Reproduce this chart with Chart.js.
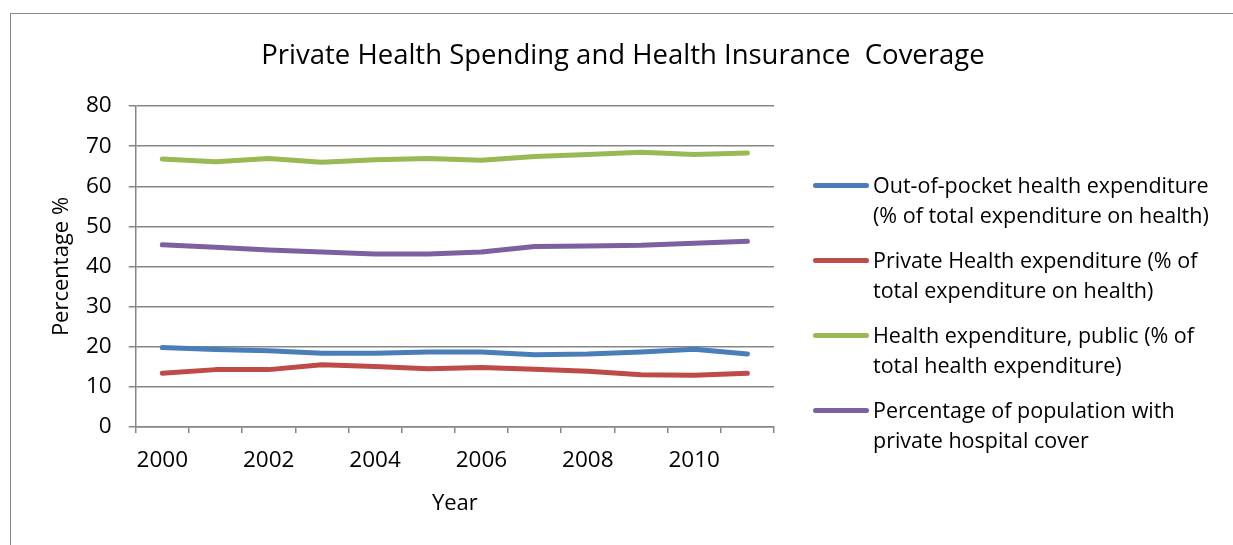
<!DOCTYPE html>
<html>
<head>
<meta charset="utf-8">
<script src="https://cdn.jsdelivr.net/npm/chart.js@4/dist/chart.umd.min.js"></script>
<style>
  html, body { margin: 0; padding: 0; background: #fff; }
  #wrap { position: relative; width: 1233px; height: 545px; overflow: hidden; }
  #frame { position: absolute; left: 10px; top: 13px; width: 1300px; height: 600px;
           border-left: 1.5px solid #888; border-top: 1.5px solid #888; }
  canvas { position: absolute; left: 0; top: 0; }
  #title { position: absolute; left: 0; width: 1246px; top: 35px; text-align: center;
           font-family: "Open Sans", sans-serif; font-size: 27.5px; line-height: 38px; color: #000; white-space: pre; }
  #legend { position: absolute; left: 813px; top: 170px; font-family: "Open Sans", sans-serif;
            font-size: 21.5px; color: #000; }
  .item { position: relative; height: 75px; }
  .swatch { position: absolute; left: 0; top: 13px; width: 56px; height: 5px; border-radius: 3px; }
  .label { position: absolute; left: 60px; top: 0; line-height: 30px; white-space: nowrap; }
</style>
</head>
<body>
<div id="wrap">
  <div id="frame"></div>
  <canvas id="chart" width="1233" height="545"></canvas>
  <div id="title"></div>
  <div id="legend"></div>
</div>
<script>
const chartTitle = 'Private Health Spending and Health Insurance  Coverage';
const years = ['2000','2001','2002','2003','2004','2005','2006','2007','2008','2009','2010','2011'];

const outOfPocket = [19.8, 19.3, 19.0, 18.4, 18.4, 18.7, 18.7, 18.0, 18.2, 18.7, 19.4, 18.2];
const privateHealth = [13.4, 14.3, 14.3, 15.5, 15.1, 14.5, 14.8, 14.4, 13.9, 13.0, 12.9, 13.4];
const publicHealth = [66.8, 66.1, 66.9, 66.0, 66.6, 66.9, 66.5, 67.4, 67.9, 68.5, 67.9, 68.3];
const privateCover = [45.4, 44.8, 44.1, 43.6, 43.1, 43.1, 43.6, 45.0, 45.1, 45.3, 45.8, 46.3];

const seriesNames = [
  ['Out-of-pocket health expenditure', '(% of total expenditure on health)'],
  ['Private Health expenditure (% of', 'total expenditure on health)'],
  ['Health expenditure, public (% of', 'total health expenditure)'],
  ['Percentage of population with', 'private hospital cover']
];
const seriesColors = ['#4A7EBB', '#BE4B48', '#98B954', '#7D60A0'];
const seriesValues = [outOfPocket, privateHealth, publicHealth, privateCover];

const gridColor = '#868686';
const font = 'Open Sans';

const datasets = seriesValues.map((vals, i) => ({
  label: seriesNames[i].join(' '),
  data: vals,
  borderColor: seriesColors[i],
  backgroundColor: seriesColors[i],
  borderWidth: 5,
  borderCapStyle: 'round',
  borderJoinStyle: 'round',
  pointRadius: 0,
  tension: 0,
  fill: false
}));

new Chart(document.getElementById('chart'), {
  type: 'line',
  data: { labels: years, datasets },
  options: {
    responsive: false,
    animation: false,
    layout: { padding: { left: 45, top: 106, right: 459, bottom: 24 } },
    plugins: {
      legend: { display: false },
      tooltip: { enabled: false },
      title: { display: false }
    },
    scales: {
      x: {
        offset: true,
        grid: { display: true, drawOnChartArea: false, drawTicks: true, tickLength: 6, color: gridColor, lineWidth: 1.5, offset: true },
        border: { color: gridColor, width: 1.5 },
        ticks: {
          autoSkip: false, maxRotation: 0, color: '#000', padding: 14,
          font: { family: font, size: 22.5 },
          callback: function (v, i) { return i % 2 === 0 ? this.getLabelForValue(v) : ''; }
        },
        title: { display: true, text: 'Year', color: '#000', font: { family: font, size: 22 }, padding: 4 },
        afterFit: s => { s.height = 94; }
      },
      y: {
        min: 0, max: 80,
        grid: { color: gridColor, lineWidth: 1.5, tickLength: 7 },
        border: { color: gridColor, width: 1.5 },
        ticks: { stepSize: 10, color: '#000', padding: 17, font: { family: font, size: 22.5 } },
        title: { display: true, text: 'Percentage %', color: '#000', font: { family: font, size: 22 }, padding: 4 },
        afterFit: s => { s.width = 90.7; }
      }
    }
  }
});

document.getElementById('title').textContent = chartTitle;

// legend built from the same series names and colours
const legend = document.getElementById('legend');
seriesNames.forEach((lines, i) => {
  const item = document.createElement('div');
  item.className = 'item';
  item.innerHTML = `<div class="swatch" style="background:${seriesColors[i]}"></div>
    <div class="label">${lines.join('<br>')}</div>`;
  legend.appendChild(item);
});
</script>
</body>
</html>
